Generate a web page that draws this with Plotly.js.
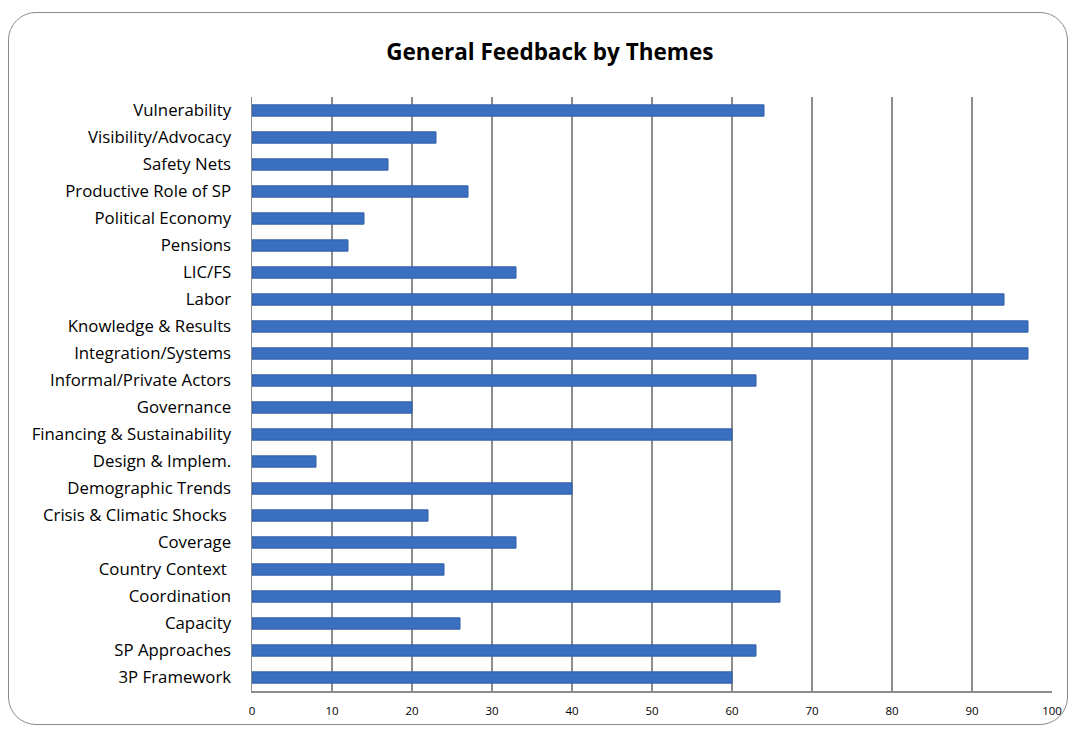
<!DOCTYPE html>
<html>
<head>
<meta charset="utf-8">
<script src="https://cdn.plot.ly/plotly-3.0.1.min.js"></script>
<style>
  html, body { margin: 0; padding: 0; background: #fff; }
  #frame { position: absolute; left: 8px; top: 12px; width: 1058px; height: 711px;
           border: 1.5px solid #8a8a8a; border-radius: 28px; }
  #chart { position: absolute; left: 0; top: 0; width: 1076px; height: 730px; }
</style>
</head>
<body>
<div id="frame"></div>
<div id="chart"></div>
<script>
const themes = [
  "Vulnerability", "Visibility/Advocacy", "Safety Nets", "Productive Role of SP",
  "Political Economy", "Pensions", "LIC/FS", "Labor", "Knowledge & Results",
  "Integration/Systems", "Informal/Private Actors", "Governance",
  "Financing & Sustainability", "Design & Implem.", "Demographic Trends",
  "Crisis & Climatic Shocks ", "Coverage", "Country Context ", "Coordination",
  "Capacity", "SP Approaches", "3P Framework"
];
const counts = [64, 23, 17, 27, 14, 12, 33, 94, 97, 97, 63, 20, 60, 8, 40, 22, 33, 24, 66, 26, 63, 60];
const xTicks = [0, 10, 20, 30, 40, 50, 60, 70, 80, 90, 100];

const font = "'Open Sans', sans-serif";

const data = [{
  type: "bar",
  orientation: "h",
  y: themes,
  x: counts,
  width: 0.42,
  marker: { color: "#3b6fbf", line: { color: "#2f5ea6", width: 1 } },
  hoverinfo: "x+y"
}];

const layout = {
  width: 1076, height: 730,
  margin: { l: 252, r: 24, t: 97, b: 39 },
  paper_bgcolor: "rgba(0,0,0,0)",
  plot_bgcolor: "rgba(0,0,0,0)",
  showlegend: false,
  title: { text: "<b>General Feedback by Themes</b>", font: { family: font, size: 22.5, color: "#000" },
           x: 0.511, xref: "container", xanchor: "center", y: 0.928, yref: "container", yanchor: "middle" },
  xaxis: {
    range: [0, 100], tickvals: xTicks, ticktext: xTicks.map(String),
    showgrid: true, gridcolor: "#8c8c8c", gridwidth: 1.5,
    showline: true, linecolor: "#8c8c8c", linewidth: 1.5,
    zeroline: false, ticks: "", ticklabelstandoff: 9,
    tickfont: { family: font, size: 11.5, color: "#000" }, fixedrange: true
  },
  yaxis: {
    autorange: "reversed", type: "category",
    showgrid: false, showline: true, linecolor: "#8c8c8c", linewidth: 1.5,
    ticks: "", ticklabelstandoff: 16,
    tickfont: { family: font, size: 16.8, color: "#000" }, fixedrange: true
  }
};

Plotly.newPlot("chart", data, layout, { displayModeBar: false, staticPlot: true });
</script>
</body>
</html>
